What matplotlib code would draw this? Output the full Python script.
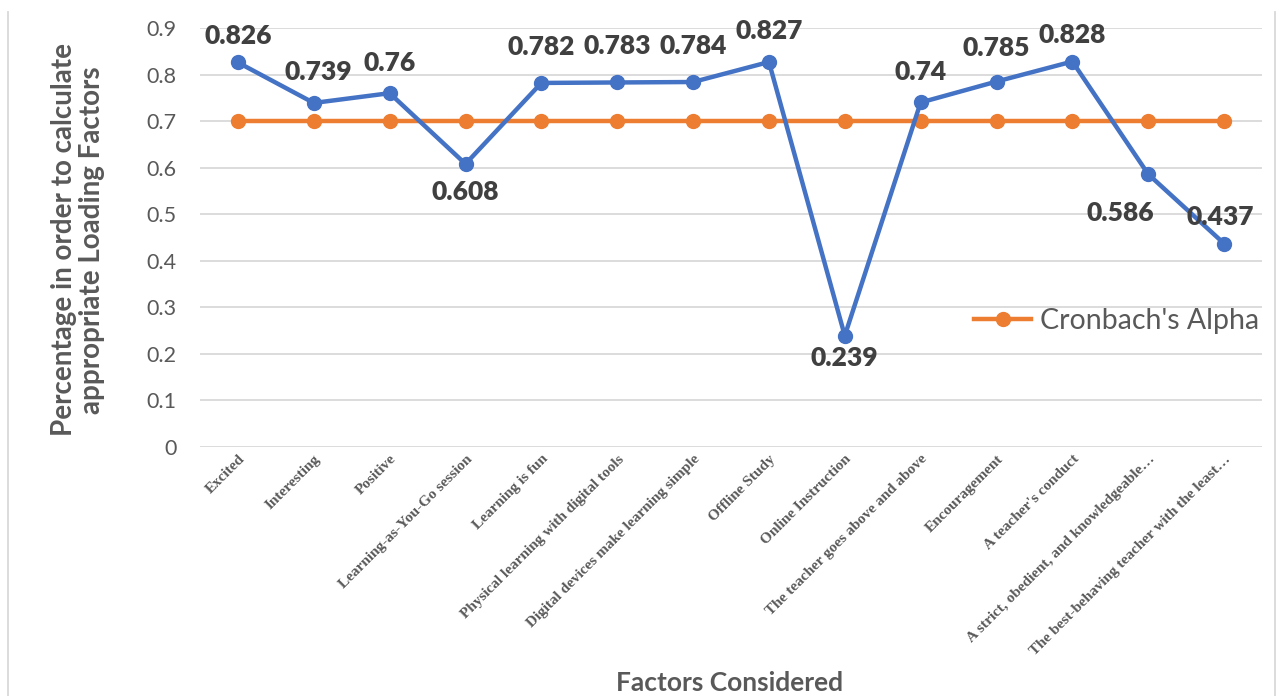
import matplotlib.pyplot as plt
from matplotlib.lines import Line2D

# factors and their loading values
factors = ["Excited", "Interesting", "Positive", "Learning-as-You-Go session",
           "Learning is fun", "Physical learning with digital tools",
           "Digital devices make learning simple", "Offline Study",
           "Online Instruction", "The teacher goes above and above",
           "Encouragement", "A teacher's conduct",
           "A strict, obedient, and knowledgeable…",
           "The best-behaving teacher with the least…"]
loadings = [0.826, 0.739, 0.76, 0.608, 0.782, 0.783, 0.784, 0.827,
            0.239, 0.74, 0.785, 0.828, 0.586, 0.437]
alpha = [0.7] * len(factors)

# label offsets in points (dx, dy)
offsets = {0: (0, 19), 1: (3, 22), 2: (0, 22), 3: (0, -20), 4: (0, 26),
           5: (0, 26), 6: (0, 26), 7: (0, 22), 8: (0, -16), 9: (0, 22),
           10: (0, 24), 11: (0, 19), 12: (-20, -28), 13: (-3, 19)}

plt.rcParams['font.family'] = ['Lato', 'DejaVu Sans']

fig = plt.figure(figsize=(12.79, 6.96), dpi=100)
ax = fig.add_axes([200/1279, 1-447/696, 1062/1279, 419/696])

x = range(len(factors))
ax.plot(x, alpha, color='#ED7D31', lw=3.2, marker='o', ms=10, zorder=2,
        label="Cronbach's Alpha")
ax.plot(x, loadings, color='#4472C4', lw=3.2, marker='o', ms=10, zorder=3)

for i, v in enumerate(loadings):
    dx, dy = offsets[i]
    ax.annotate(f"{v:g}", (i, v), xytext=(dx, dy), textcoords='offset points',
                ha='center', va='center', fontsize=19, fontweight='heavy',
                color='#404040')

ax.set_xlim(-0.5, len(factors) - 0.5)
ax.set_ylim(0, 0.9)
ax.set_yticks([i / 10 for i in range(10)])
ax.set_yticklabels(['0'] + [f"{i/10:.1f}" for i in range(1, 10)])
ax.tick_params(axis='y', length=0, labelsize=15.5, labelcolor='#595959', pad=17)
ax.tick_params(axis='x', length=0, pad=4)
ax.set_xticks(list(x))
ax.set_xticklabels(factors, rotation=45, ha='right', rotation_mode='anchor',
                   family='Liberation Serif', fontweight='bold', fontsize=11,
                   color='#595959')
ax.grid(axis='y', color='#D9D9D9', lw=1.3)
ax.set_axisbelow(True)
for s in ax.spines.values():
    s.set_visible(False)

fig.text(78/1279, 1-240/696,
         "Percentage in order to calculate\nappropriate Loading Factors",
         rotation=90, ha='center', va='center', fontsize=20,
         fontweight='bold', color='#595959', linespacing=1.1)
fig.text(730/1279, 1-683/696, "Factors Considered", ha='center', va='center',
         fontsize=19, fontweight='bold', color='#595959')

leg = ax.legend(loc='center right', bbox_to_anchor=(1.008, 0.3), frameon=False,
                fontsize=20.5, handlelength=2.0, handletextpad=0.3,
                labelcolor='#595959', borderaxespad=0)

# chart border on the sides
fig.add_artist(Line2D([8/1279, 8/1279], [0, 1-12/696], color='#D9D9D9', lw=1.3))
fig.add_artist(Line2D([1275/1279, 1275/1279], [0, 1-12/696], color='#D9D9D9', lw=1.3))

fig.savefig('out.png', dpi=100)
